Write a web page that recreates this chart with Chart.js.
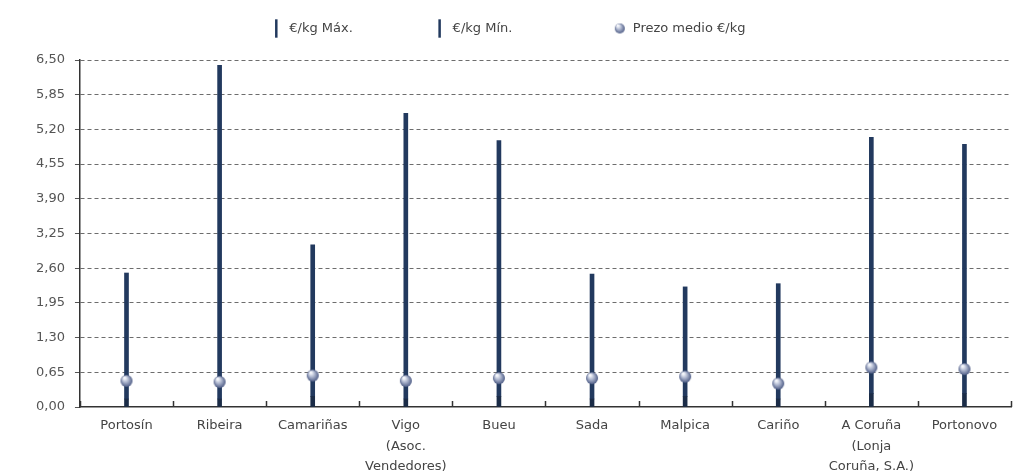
<!DOCTYPE html>
<html>
<head>
<meta charset="utf-8">
<script src="https://cdn.jsdelivr.net/npm/chart.js@4/dist/chart.umd.min.js"></script>
<style>
    html, body { margin: 0; padding: 0; background: #fff; }
    #wrap { width: 1016px; height: 476px; }
</style>
</head>
<body>
<div id="wrap"><canvas id="prezos" width="1016" height="476"></canvas></div>
<script>
// datos leidos da imaxe
const lonxas = [
    "Portosín", "Ribeira", "Camariñas", ["Vigo", "(Asoc.", "Vendedores)"], "Bueu",
    "Sada", "Malpica", "Cariño", ["A Coruña", "(Lonja", "Coruña, S.A.)"], "Portonovo"
];
const prezoMax = [2.51, 6.40, 3.04, 5.50, 4.99, 2.49, 2.25, 2.31, 5.05, 4.92];
const prezoMin = [0.15, 0.15, 0.20, 0.15, 0.20, 0.15, 0.20, 0.15, 0.25, 0.25];
const prezoMedio = [0.49, 0.47, 0.59, 0.49, 0.54, 0.54, 0.57, 0.44, 0.74, 0.71];
const ticksY = [0, 0.65, 1.30, 1.95, 2.60, 3.25, 3.90, 4.55, 5.20, 5.85, 6.50];
const lenda = ["€/kg Máx.", "€/kg Mín.", "Prezo medio €/kg"];

const corBarra = "#22395e";
const corMin = "#1b2c47";
const fonte = "'DejaVu Sans', Verdana, sans-serif";

// bola para os puntos do prezo medio
function bola(r) {
    const c = document.createElement("canvas");
    c.width = r * 2 + 2;
    c.height = r * 2 + 2;
    const g = c.getContext("2d");
    const grad = g.createRadialGradient(r - 1, r - 2, 1, r + 1, r + 1, r);
    grad.addColorStop(0, "#f4f6fb");
    grad.addColorStop(0.45, "#aab3cc");
    grad.addColorStop(1, "#4f5d86");
    g.fillStyle = grad;
    g.beginPath();
    g.arc(r + 1, r + 1, r, 0, Math.PI * 2);
    g.fill();
    return c;
}
const bolaGrande = bola(6);
const bolaLenda = bola(5);

// pequenas marcas no eixo X entre categorias, cara arriba
const marcasX = {
    id: "marcasX",
    beforeInit(chart) {
        // un pouco mais de aire baixo a lenda
        const fit = chart.legend.fit;
        chart.legend.fit = function () {
            fit.call(this);
            this.height += 15;
        };
    },
    afterDatasetsDraw(chart) {
        const x = chart.scales.x;
        const y = chart.scales.y;
        const ctx = chart.ctx;
        const base = y.getPixelForValue(0);
        ctx.save();
        ctx.strokeStyle = "#333";
        ctx.lineWidth = 1.5;
        for (let i = 0; i <= lonxas.length; i++) {
            const px = x.getPixelForValue(i - 0.5);
            ctx.beginPath();
            ctx.moveTo(Math.round(px) + 0.5, base);
            ctx.lineTo(Math.round(px) + 0.5, base - 6);
            ctx.stroke();
        }
        ctx.restore();
    },
};

const ctx = document.getElementById("prezos").getContext("2d");

new Chart(ctx, {
    type: "bar",
    data: {
        labels: lonxas,
        datasets: [
            {
                label: lenda[0],
                data: prezoMax.map((v, i) => [prezoMin[i], v]),
                backgroundColor: corBarra,
                barThickness: 4,
                grouped: false,
                order: 2,
            },
            {
                label: lenda[1],
                data: prezoMin.map((v) => [0, v]),
                backgroundColor: corMin,
                barThickness: 4,
                grouped: false,
                order: 1,
            },
            {
                type: "line",
                label: lenda[2],
                data: prezoMedio,
                showLine: false,
                pointStyle: bolaGrande,
                order: 0,
            },
        ],
    },
    options: {
        responsive: false,
        animation: false,
        layout: {
            padding: { top: 12, right: 2, left: 26, bottom: 0 },
        },
        plugins: {
            tooltip: { enabled: false },
            legend: {
                position: "top",
                align: "center",
                labels: {
                    color: "#444",
                    font: { family: fonte, size: 13 },
                    padding: 10,
                    usePointStyle: true,
                    // espazos ao final para separar os elementos coma no orixinal
                    generateLabels: (chart) =>
                        chart.data.datasets.map((ds, i) => ({
                            text: ds.label + " ".repeat([17, 22, 6][i]),
                            datasetIndex: i,
                            fillStyle: i < 2 ? corBarra : "#8f9abb",
                            strokeStyle: i < 2 ? corBarra : "#8f9abb",
                            lineWidth: i < 2 ? 2.5 : 0,
                            pointStyle: i < 2 ? "line" : bolaLenda,
                            rotation: i < 2 ? 90 : 0,
                            fontColor: "#444",
                        })),
                },
            },
        },
        scales: {
            x: {
                offset: true,
                grid: { display: false },
                border: { color: "#333", width: 1.5 },
                afterFit: (s) => {
                    s.height = 69;
                },
                ticks: {
                    color: "#444",
                    font: { family: fonte, size: 13, lineHeight: 1.6 },
                    maxRotation: 0,
                    autoSkip: false,
                    padding: 0,
                },
            },
            y: {
                min: 0,
                max: 6.5,
                afterBuildTicks: (axis) => {
                    axis.ticks = ticksY.map((v) => ({ value: v }));
                },
                grid: {
                    color: (c) => (c.tick && c.tick.value === 0 ? "rgba(0,0,0,0)" : "#6d6d6d"),
                    lineWidth: 1,
                    tickLength: 5,
                    tickColor: "#555",
                    tickBorderDash: [],
                },
                border: { color: "#333", width: 1.5, dash: [4, 3] },
                ticks: {
                    color: "#555",
                    font: { family: fonte, size: 13 },
                    padding: 10,
                    callback: (v) => Number(v).toFixed(2).replace(".", ","),
                },
            },
        },
    },
    plugins: [marcasX],
});
</script>
</body>
</html>
